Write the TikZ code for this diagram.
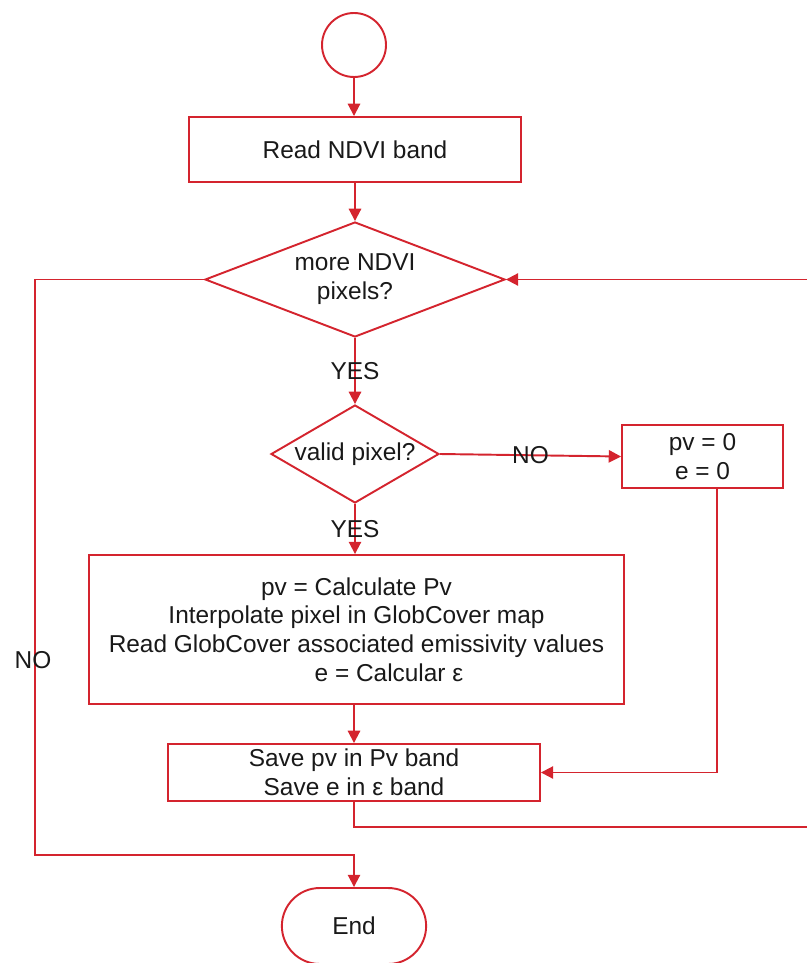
\documentclass[tikz,border=0pt]{standalone}
\usepackage{fontspec}
\setmainfont{Liberation Sans}
\usetikzlibrary{shapes.geometric,shapes.misc,arrows.meta}
\definecolor{flowred}{RGB}{212,36,46}
\begin{document}
\begin{tikzpicture}[x=0.02cm,y=-0.02cm,
	  every node/.style={font=\fontsize{13.9}{16.4}\selectfont,text=black!90},
	  line/.style={draw=flowred,line width=1.1pt},
	  arr/.style={line,-{Triangle[length=7pt,width=7pt]}},
	  box/.style={line,rectangle,align=center,inner sep=0pt},
	  dia/.style={line,diamond,inner sep=0pt},
	  lbl/.style={inner sep=1pt}]
	  \useasboundingbox (0,0) rectangle (807,963);
	  \node[line,circle,minimum size=1.28cm,inner sep=0pt] (start) at (354,45) {};
	  \node[box,minimum width=6.64cm,minimum height=1.3cm] (read) at (355,149.5) {Read NDVI band};
	  \node[dia,minimum width=6cm,minimum height=2.3cm,label={[align=center]center:more NDVI\\pixels?}] (more) at (355,279.5) {};
	  \node[dia,minimum width=3.36cm,minimum height=1.96cm,label={center:valid pixel?}] (valid) at (355,454) {};
	  \node[box,minimum width=3.22cm,minimum height=1.26cm] (zero) at (702.5,456.5) {pv = 0\\e = 0};
	  \node[box,minimum width=10.7cm,minimum height=2.98cm] (calc) at (356.5,629.5) {pv = Calculate Pv\\Interpolate pixel in GlobCover map\\Read GlobCover associated emissivity values\\\hspace*{1.3cm}e = Calcular ε};
	  \node[box,minimum width=7.44cm,minimum height=1.14cm] (save) at (354,772.5) {Save pv in Pv band\\Save e in ε band};
	  \node[line,rounded rectangle,minimum width=3.12cm,minimum height=1.52cm] (end) at (354,926) {End};
	  \coordinate (noleft) at (35,855);
	  \coordinate (loopright) at (820,827);
	  \draw[arr] (start) -- (start |- read.north);
	  \draw[arr] (read) -- (more);
	  \draw[arr] (more) -- node[lbl]{YES} (valid);
	  \draw[arr] (valid.south) -- node[lbl]{YES} (valid.south |- calc.north);
	  \draw[arr] (valid.east) -- node[lbl]{NO} (zero.west);
	  \draw[arr] (save.north |- calc.south) -- (save.north);
	  \draw[arr] ([xshift=0.29cm]zero.south) |- (save.east);
	  \draw[arr] (save.south) |- (loopright) |- (more.east);
	  \draw[arr] (more.west) -| (noleft) -| (end.north);
	  \node[lbl] (nolabel) at (33,660) {NO};
	\end{tikzpicture}
\end{document}
